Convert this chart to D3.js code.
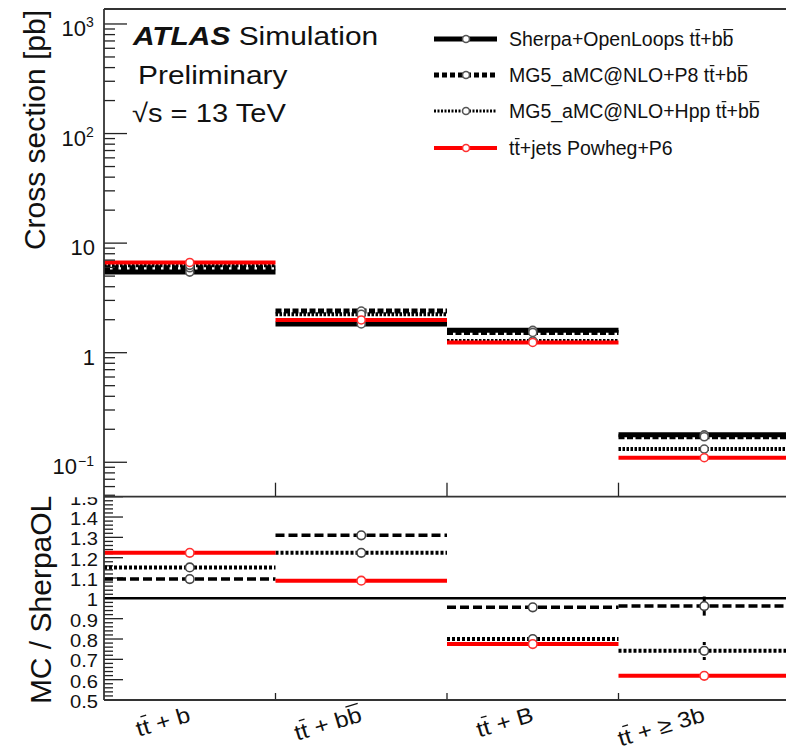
<!DOCTYPE html>
<html lang="en">
<head>
<meta charset="UTF-8">
<title>ttbb cross sections</title>
<script src="https://cdn.jsdelivr.net/npm/d3@7"></script>
<style>
body { margin: 0; background: #fff; }
text { font-family: "Liberation Sans", Arial, sans-serif; fill: #111; }
</style>
</head>
<body>
<div id="output"></div>
<script>

// "^" marks the next character as barred (t^t -> t tbar)
var categories = ["t^t + b", "t^t + b^b", "t^t + B", "t^t + \u2265 3b"];
var seriesNames = [
    "Sherpa+OpenLoops t^t+b^b",
    "MG5_aMC@NLO+P8 t^t+b^b",
    "MG5_aMC@NLO+Hpp t^t+b^b",
    "t^t+jets Powheg+P6"
];

// cross sections [pb]
var sherpa = [5.44, 1.83, 1.60, 0.178];
var mgP8   = [5.96, 2.40, 1.53, 0.171];
var mgHpp  = [6.27, 2.24, 1.28, 0.132];
var powheg = [6.66, 1.99, 1.24, 0.110];

// MC / SherpaOL
var ratioP8     = [1.095, 1.31, 0.956, 0.962];
var ratioHpp    = [1.152, 1.224, 0.800, 0.742];
var ratioPowheg = [1.224, 1.087, 0.775, 0.619];
var ratioErrP8  = [0, 0, 0, 0.047];
var ratioErrHpp = [0, 0, 0, 0.045];

var mainTicks = [1000, 100, 10, 1, 0.1];
var mainTickLabels = [["10", "3"], ["10", "2"], ["10", ""], ["1", ""], ["10", "\u22121"]];
var ratioTicks = [0.5, 0.6, 0.7, 0.8, 0.9, 1.0, 1.1, 1.2, 1.3, 1.4, 1.5];
var ratioTickLabels = ["0.5", "0.6", "0.7", "0.8", "0.9", "1", "1.1", "1.2", "1.3", "1.4", "1.5"];

var w = 786, h = 750;
var left = 104, right = 790;
var mainTop = 9, mainBottom = 496.7, ratioBottom = 700;

var svg = d3.select("#output").append("svg")
    .attr("width", w).attr("height", h);

var defs = svg.append("defs");
defs.append("clipPath").attr("id", "ratioLabelClip")
    .append("rect").attr("x", 0).attr("y", mainBottom + 0.5).attr("width", left).attr("height", 260);

var xScale = d3.scaleLinear().domain([0, 4]).range([left, right]);
var yMain = d3.scaleLog().domain([0.0485, 1370]).range([mainBottom, mainTop]);
var yRatio = d3.scaleLinear().domain([0.5, 1.5]).range([ratioBottom, mainBottom]);

// draws text, putting a bar over the characters marked with "^"
function richText(parent, str, fontSize) {
    var chars = [], marks = [];
    for (var i = 0; i < str.length; i++) {
        if (str[i] === "^") { marks.push(chars.length); }
        else { chars.push(str[i]); }
    }
    var t = parent.append("text").attr("font-size", fontSize).text(chars.join(""));
    t.afterDraw = function () {
        marks.forEach(function (k) {
            var s = t.node().getStartPositionOfChar(k);
            var e = t.node().getEndPositionOfChar(k);
            parent.append("line")
                .attr("x1", s.x + 0.5).attr("x2", e.x - 0.3)
                .attr("y1", s.y - fontSize * 0.84).attr("y2", s.y - fontSize * 0.84)
                .attr("stroke", "#111").attr("stroke-width", fontSize * 0.06);
        });
    };
    return t;
}

// ---------- main panel ----------
var mainStyles = [
    { values: sherpa, color: "#000", width: 5, dash: null, marker: "#555" },
    { values: mgP8,   color: "#000", width: 5, dash: "6,2.5", marker: "#555" },
    { values: mgHpp,  color: "#000", width: 4, dash: "2.5,1.5", marker: "#555" },
    { values: powheg, color: "#ff0000", width: 4, dash: null, marker: "#ff3030" }
];

var mainLayer = svg.append("g");
mainStyles.forEach(function (st) {
    mainLayer.append("g").selectAll("line")
        .data(st.values)
        .enter().append("line")
        .attr("x1", function (d, i) { return xScale(i); })
        .attr("x2", function (d, i) { return xScale(i + 1); })
        .attr("y1", function (d) { return yMain(d); })
        .attr("y2", function (d) { return yMain(d); })
        .attr("stroke", st.color)
        .attr("stroke-width", st.width)
        .attr("stroke-dasharray", st.dash);
});
mainStyles.forEach(function (st) {
    mainLayer.append("g").selectAll("circle")
        .data(st.values)
        .enter().append("circle")
        .attr("cx", function (d, i) { return xScale(i + 0.5); })
        .attr("cy", function (d) { return yMain(d); })
        .attr("r", 4)
        .attr("fill", "#fff")
        .attr("stroke", st.marker)
        .attr("stroke-width", 1.6);
});

// log axis ticks
var minorTicks = [];
for (var e = -2; e <= 3; e++) {
    for (var m = 2; m <= 9; m++) {
        var v = m * Math.pow(10, e);
        if (v > 0.0485 && v < 1370) minorTicks.push(v);
    }
}
var axisLayer = svg.append("g");
axisLayer.selectAll(".minor").data(minorTicks).enter().append("line")
    .attr("x1", left).attr("x2", left + 11)
    .attr("y1", function (d) { return yMain(d); })
    .attr("y2", function (d) { return yMain(d); })
    .attr("stroke", "#222").attr("stroke-width", 1.3);
axisLayer.selectAll(".major").data(mainTicks).enter().append("line")
    .attr("x1", left).attr("x2", left + 23)
    .attr("y1", function (d) { return yMain(d); })
    .attr("y2", function (d) { return yMain(d); })
    .attr("stroke", "#222").attr("stroke-width", 1.3);

axisLayer.selectAll(".mlab").data(mainTicks).enter().append("text")
    .attr("x", function (d, i) { return mainTickLabels[i][1] ? 95 - (mainTickLabels[i][1].length > 1 ? 18 : 9) : 95; })
    .attr("y", function (d) { return yMain(d) + 12; })
    .attr("text-anchor", "end")
    .attr("font-size", 22)
    .text(function (d, i) { return mainTickLabels[i][0]; });
axisLayer.selectAll(".msup").data(mainTicks).enter().append("text")
    .attr("x", function (d, i) { return mainTickLabels[i][1].length > 1 ? 78 : 86; })
    .attr("y", function (d) { return yMain(d) + 3.5; })
    .attr("font-size", 14)
    .text(function (d, i) { return mainTickLabels[i][1]; });

// x ticks on main panel
axisLayer.selectAll(".xt").data([1, 2, 3]).enter().append("line")
    .attr("x1", function (d) { return xScale(d); })
    .attr("x2", function (d) { return xScale(d); })
    .attr("y1", mainBottom).attr("y2", mainBottom - 14)
    .attr("stroke", "#222").attr("stroke-width", 1.3);

// ---------- ratio panel ----------
var ratioLayer = svg.append("g");
ratioLayer.append("line")
    .attr("x1", left).attr("x2", right)
    .attr("y1", yRatio(1)).attr("y2", yRatio(1))
    .attr("stroke", "#000").attr("stroke-width", 2.5);

var ratioStyles = [
    { values: ratioP8, err: ratioErrP8, color: "#000", width: 3.5, dash: "9,4", marker: "#444" },
    { values: ratioHpp, err: ratioErrHpp, color: "#000", width: 4, dash: "3,2", marker: "#444" },
    { values: ratioPowheg, err: null, color: "#ff0000", width: 4, dash: null, marker: "#ff3030" }
];
ratioStyles.forEach(function (st) {
    var g = ratioLayer.append("g");
    g.selectAll("line.h").data(st.values).enter().append("line")
        .attr("x1", function (d, i) { return xScale(i); })
        .attr("x2", function (d, i) { return xScale(i + 1); })
        .attr("y1", function (d) { return yRatio(d); })
        .attr("y2", function (d) { return yRatio(d); })
        .attr("stroke", st.color)
        .attr("stroke-width", st.width)
        .attr("stroke-dasharray", st.dash);
    if (st.err) {
        g.selectAll("line.e").data(st.values).enter().append("line")
            .attr("x1", function (d, i) { return xScale(i + 0.5); })
            .attr("x2", function (d, i) { return xScale(i + 0.5); })
            .attr("y1", function (d, i) { return yRatio(d - st.err[i]); })
            .attr("y2", function (d, i) { return yRatio(d + st.err[i]); })
            .attr("stroke", "#000").attr("stroke-width", 3)
            .attr("stroke-dasharray", st.dash === "3,2" ? "3,2" : null);
    }
});
ratioStyles.forEach(function (st) {
    ratioLayer.append("g").selectAll("circle").data(st.values).enter().append("circle")
        .attr("cx", function (d, i) { return xScale(i + 0.5); })
        .attr("cy", function (d) { return yRatio(d); })
        .attr("r", 4.3)
        .attr("fill", "#fff")
        .attr("stroke", st.marker)
        .attr("stroke-width", 1.6);
});

var ratioMinor = d3.range(0.52, 1.5, 0.02).filter(function (d) {
    return Math.abs(Math.round(d * 10) - d * 10) > 0.05;
});
axisLayer.selectAll(".rminor").data(ratioMinor).enter().append("line")
    .attr("x1", left).attr("x2", left + 9)
    .attr("y1", function (d) { return yRatio(d); })
    .attr("y2", function (d) { return yRatio(d); })
    .attr("stroke", "#222").attr("stroke-width", 1.3);
axisLayer.selectAll(".rmajor").data(ratioTicks).enter().append("line")
    .attr("x1", left).attr("x2", left + 19)
    .attr("y1", function (d) { return yRatio(d); })
    .attr("y2", function (d) { return yRatio(d); })
    .attr("stroke", "#222").attr("stroke-width", 1.3);
axisLayer.append("g").attr("clip-path", "url(#ratioLabelClip)")
    .selectAll("text").data(ratioTicks).enter().append("text")
    .attr("transform", function (d) { return "translate(98," + (yRatio(d) + 8) + ") scale(1.12,1)"; })
    .attr("text-anchor", "end")
    .attr("font-size", 18)
    .text(function (d, i) { return ratioTickLabels[i]; });

axisLayer.selectAll(".xtr").data([1, 2, 3]).enter().append("line")
    .attr("x1", function (d) { return xScale(d); })
    .attr("x2", function (d) { return xScale(d); })
    .attr("y1", ratioBottom).attr("y2", ratioBottom - 7)
    .attr("stroke", "#222").attr("stroke-width", 1.3);

// frame
var frame = svg.append("g").attr("stroke", "#333").attr("stroke-width", 1.8);
frame.append("line").attr("x1", left).attr("x2", right).attr("y1", mainTop).attr("y2", mainTop);
frame.append("line").attr("x1", left).attr("x2", right).attr("y1", mainBottom).attr("y2", mainBottom);
frame.append("line").attr("x1", left).attr("x2", right).attr("y1", ratioBottom).attr("y2", ratioBottom);
frame.append("line").attr("x1", left).attr("x2", left).attr("y1", mainTop).attr("y2", ratioBottom);

// category labels
categories.forEach(function (c, i) {
    var g = svg.append("g")
        .attr("transform", "translate(" + (xScale(i + 0.5) + 2) + ",721) rotate(-16.5) scale(1.12,1)");
    var t = richText(g, c, 22).attr("text-anchor", "end");
    t.afterDraw();
});

// axis titles
svg.append("text")
    .attr("transform", "translate(45,10) rotate(-90)")
    .attr("text-anchor", "end")
    .attr("font-size", 30)
    .text("Cross section [pb]");
svg.append("text")
    .attr("transform", "translate(51," + (mainBottom - 1) + ") rotate(-90)")
    .attr("text-anchor", "end")
    .attr("font-size", 30)
    .text("MC / SherpaOL");

// ATLAS label
var atlas = svg.append("g").attr("transform", "translate(133,45) scale(1.15,1)");
var at = atlas.append("text").attr("font-size", 26);
at.append("tspan").attr("font-weight", "bold").attr("font-style", "italic").text("ATLAS");
at.append("tspan").text(" Simulation");
svg.append("g").attr("transform", "translate(138,84) scale(1.15,1)")
    .append("text").attr("font-size", 26).text("Preliminary");
svg.append("g").attr("transform", "translate(132,122) scale(1.12,1)")
    .append("text").attr("font-size", 26).text("\u221As = 13 TeV");

// legend
var legendStyles = [
    { color: "#000", width: 5, dash: null, marker: "#555" },
    { color: "#000", width: 5, dash: "5,3", marker: "#555" },
    { color: "#000", width: 3, dash: "2,1.5", marker: "#555" },
    { color: "#ff0000", width: 4, dash: null, marker: "#ff3030" }
];
var legendRows = [39, 75, 111, 148];
seriesNames.forEach(function (name, i) {
    var st = legendStyles[i];
    var g = svg.append("g").attr("transform", "translate(0," + legendRows[i] + ")");
    g.append("line").attr("x1", 434).attr("x2", 497).attr("y1", 0).attr("y2", 0)
        .attr("stroke", st.color).attr("stroke-width", st.width)
        .attr("stroke-dasharray", st.dash);
    g.append("circle").attr("cx", 466).attr("cy", 0).attr("r", 3.5)
        .attr("fill", "#fff").attr("stroke", st.marker).attr("stroke-width", 1.6);
    var t = richText(g, name, 19.5).attr("x", 509).attr("y", 7);
    t.afterDraw();
});

</script>
</body>
</html>
